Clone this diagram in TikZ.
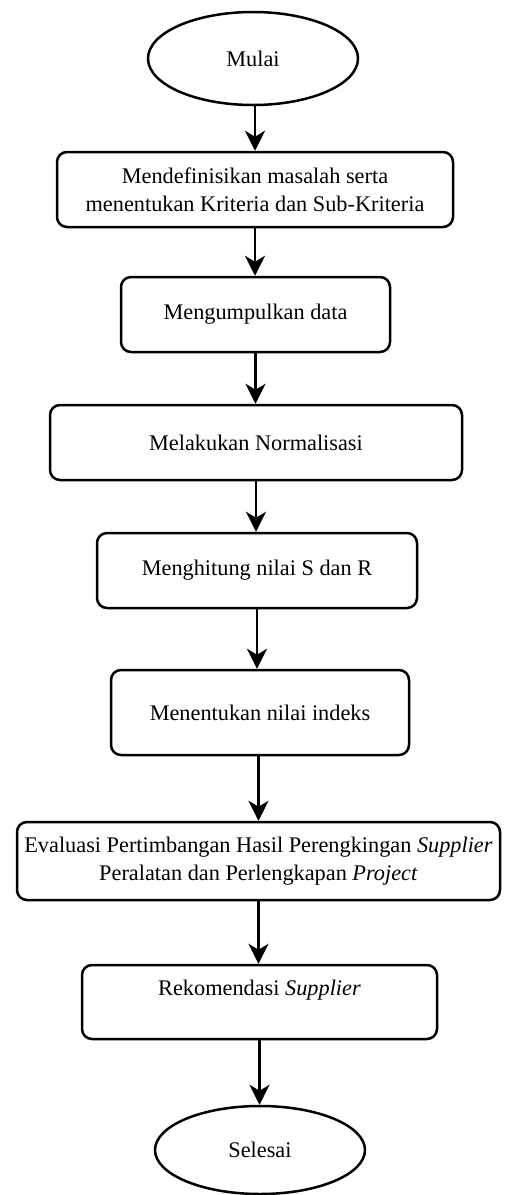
\documentclass[tikz,border=0pt]{standalone}
\usepackage{fontspec}
\setmainfont{Liberation Serif}
\usetikzlibrary{shapes.geometric,arrows.meta}
\begin{document}
\begin{tikzpicture}[x=1pt,y=1pt,
  txt/.style={font=\fontsize{22.3}{28}\selectfont},
  box/.style={txt, draw, line width=2.5pt, rounded corners=10pt, align=center, inner sep=0pt},
  term/.style={txt, draw, ellipse, line width=2.5pt, inner sep=0pt},
  flow/.style={-{Stealth[length=20pt,width=20pt,inset=6pt]}, line width=2.2pt}]
\useasboundingbox (0,0) rectangle (504,-1195);
\fill[white] (0,0) rectangle (504,-1195);
\node[term, minimum width=210pt, minimum height=93pt] (m) at (253,-58.5) {Mulai};
\node[box, minimum width=396pt, minimum height=75pt] (b1) at (255,-189.5) {Mendefinisikan masalah serta\\menentukan Kriteria dan Sub-Kriteria};
\node[box, minimum width=269pt, minimum height=75pt] (b2) at (255.5,-314.5) {Mengumpulkan data};
\node[box, minimum width=412pt, minimum height=75pt] (b3) at (256,-442.5) {Melakukan Normalisasi};
\node[box, minimum width=320pt, minimum height=75pt] (b4) at (257,-570.5) {Menghitung nilai S dan R};
\node[box, minimum width=298pt, minimum height=85pt] (b5) at (260,-712.5) {Menentukan nilai indeks};
\node[box, minimum width=483pt, minimum height=78pt] (b6) at (258.5,-861) {Evaluasi Pertimbangan Hasil Perengkingan \textit{Supplier}\\Peralatan dan Perlengkapan \textit{Project}};
\node[box, minimum width=355pt, minimum height=74pt] (b7) at (259.5,-1002) {Rekomendasi \textit{Supplier}\\\mbox{}};
\node[term, minimum width=210pt, minimum height=88pt] (e) at (260,-1150) {Selesai};
\draw[flow] (b1.north |- m.south) -- (b1.north);
\draw[flow] (b1.south) -- (b1.south |- b2.north);
\draw[flow] (b2.south) -- (b2.south |- b3.north);
\draw[flow] (b3.south) -- (b3.south |- b4.north);
\draw[flow] (b4.south) -- (b4.south |- b5.north);
\draw[flow] (b6.north |- b5.south) -- (b6.north);
\draw[flow] (b6.south) -- (b6.south |- b7.north);
\draw[flow] (b7.south) -- (b7.south |- e.north);
\end{tikzpicture}
\end{document}
